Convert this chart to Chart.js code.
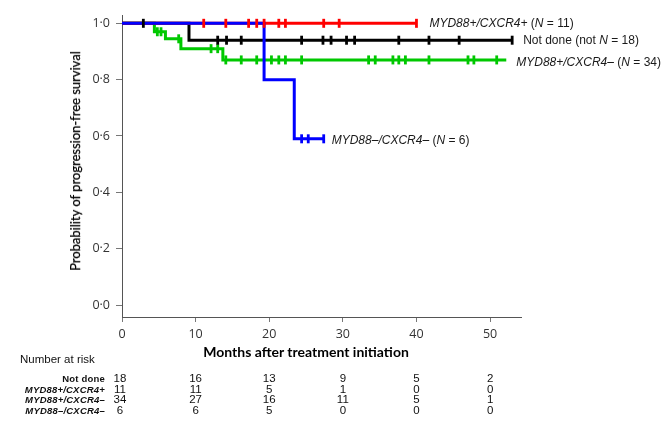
<!DOCTYPE html>
<html>
<head>
<meta charset="utf-8">
<script src="https://cdn.jsdelivr.net/npm/chart.js@4.4.1/dist/chart.umd.min.js"></script>
<style>
  body { margin: 0; background: #fff; }
  #wrap { position: relative; width: 666px; height: 425px; overflow: hidden; font-family: "Liberation Sans", Arial, sans-serif; }
  #km { position: absolute; left: 0; top: 0; }
  .curve-label { position: absolute; white-space: nowrap; font-size: 12px; color: #1a1a1a; transform: translateY(-50%); }
  .axis-title { position: absolute; white-space: nowrap; font-family: Lato, "Open Sans", sans-serif; color: #000; }
  #x-title { font-size: 14px; font-weight: bold; transform: translate(-50%, -50%); }
  #y-title { font-size: 13px; -webkit-text-stroke: 0.25px #000; transform: translate(-50%, -50%) rotate(-90deg); }
  .risk { position: absolute; white-space: nowrap; transform: translateY(-50%); color: #111; }
  .risk-name { font-size: 9.5px; font-weight: bold; text-align: right; letter-spacing: 0.2px; }
  .risk-num { font-size: 11.5px; transform: translate(-50%, -50%); }
</style>
</head>
<body>
<div id="wrap">
  <canvas id="km" width="666" height="425"></canvas>
  <div id="y-title" class="axis-title">Probability of progression-free survival</div>
  <div id="x-title" class="axis-title">Months after treatment initiation</div>
</div>
<script>
// --- DADOS ---
const xTicks = [0, 10, 20, 30, 40, 50];
const yTicks = [0, 0.2, 0.4, 0.6, 0.8, 1.0];

// MYD88–/CXCR4– (azul)
const wtWtTimes = [0, 19.3, 23.4, 27.4];
const wtWtSurv = [1, 0.8, 0.59, 0.59];
const wtWtCensor = [24.4, 25.3, 27.4];

// MYD88+/CXCR4+ (vermelho)
const mutMutTimes = [0, 40];
const mutMutSurv = [1, 1];
const mutMutCensor = [11.1, 14.1, 17.2, 18.3, 19.3, 21.3, 22.2, 27.4, 29.5, 40];

// Not done (preto)
const notDoneTimes = [0, 9.1, 53];
const notDoneSurv = [1, 0.94, 0.94];
const notDoneCensor = [2.9, 13.0, 14.2, 16.2, 24.4, 27.3, 28.4, 30.5, 31.6, 37.6, 41.7, 45.8, 53];

// MYD88+/CXCR4– (verde)
const mutWtTimes = [0, 4.4, 5.9, 8.0, 13.7, 52.2];
const mutWtSurv = [1, 0.97, 0.945, 0.91, 0.87, 0.87];
const mutWtCensor = [4.8, 5.3, 7.7, 12.1, 13.0, 14.1, 16.2, 18.3, 20.3, 21.3, 22.2, 24.4,
                     33.5, 34.4, 36.8, 37.6, 38.5, 41.7, 47.0, 47.8, 50.9];

// Number at risk
const riskNames = ['Not done', 'MYD88+/CXCR4+', 'MYD88+/CXCR4–', 'MYD88–/CXCR4–'];
const riskNotDone = [18, 16, 13, 9, 5, 2];
const riskMutMut = [11, 11, 5, 1, 0, 0];
const riskMutWt = [34, 27, 16, 11, 5, 1];
const riskWtWt = [6, 6, 5, 0, 0, 0];

// --- AUXILIARES ---
const survAt = (times, surv, t) => {
  let s = surv[0];
  times.forEach((tt, i) => { if (tt <= t) s = surv[i]; });
  return s;
};

const curve = (times, surv, color, order) => ({
  type: 'line',
  data: times.map((t, i) => ({ x: t, y: surv[i] })),
  borderColor: color,
  borderWidth: 3,
  stepped: 'before',
  pointRadius: 0,
  fill: false,
  borderJoinStyle: 'miter',
  order
});

const censors = (times, surv, censor, color) => ({
  type: 'scatter',
  data: censor.map(t => ({ x: t, y: survAt(times, surv, t) })),
  pointStyle: 'line',
  rotation: 90,
  pointRadius: 4.5,
  borderWidth: 2.8,
  borderColor: color,
  backgroundColor: color,
  showLine: false,
  order: 0
});

const RED = '#ff0000', BLACK = '#000000', GREEN = '#00c800', BLUE = '#0000ff';
const tickFont = { family: "'Open Sans', sans-serif", size: 12.5 };

const chart = new Chart(document.getElementById('km'), {
  data: {
    datasets: [
      curve(wtWtTimes, wtWtSurv, BLUE, 1),
      curve(mutMutTimes, mutMutSurv, RED, 2),
      curve(notDoneTimes, notDoneSurv, BLACK, 3),
      curve(mutWtTimes, mutWtSurv, GREEN, 4),
      censors(wtWtTimes, wtWtSurv, wtWtCensor, BLUE),
      censors(mutMutTimes, mutMutSurv, mutMutCensor, RED),
      censors(notDoneTimes, notDoneSurv, notDoneCensor, BLACK),
      censors(mutWtTimes, mutWtSurv, mutWtCensor, GREEN)
    ]
  },
  options: {
    responsive: false,
    animation: false,
    layout: { padding: { left: 0, right: 145, top: 15, bottom: 78 } },
    plugins: { legend: { display: false }, tooltip: { enabled: false } },
    scales: {
      x: {
        type: 'linear', min: 0, max: 54.2,
        afterBuildTicks: s => { s.ticks = xTicks.map(v => ({ value: v })); },
        afterFit: s => { s.height = 30; },
        ticks: { font: tickFont, color: '#333', padding: 5, maxRotation: 0, autoSkip: false },
        grid: { drawOnChartArea: false, tickLength: 5, color: '#777' },
        border: { color: '#555', width: 1 }
      },
      y: {
        type: 'linear', min: -0.0426, max: 1.0295,
        afterBuildTicks: s => { s.ticks = yTicks.map(v => ({ value: v })); },
        afterFit: s => { s.width = 122; },
        ticks: { font: tickFont, color: '#333', padding: 6, callback: v => v.toFixed(1).replace('.', '·') },
        grid: { drawOnChartArea: false, tickLength: 6, color: '#777' },
        border: { color: '#555', width: 1 }
      }
    }
  }
});

// --- TEXTOS EM HTML ---
const wrap = document.getElementById('wrap');
const xs = chart.scales.x, ys = chart.scales.y;

const addLabel = (html, left, top) => {
  const el = document.createElement('div');
  el.className = 'curve-label';
  el.innerHTML = html;
  el.style.left = left + 'px';
  el.style.top = top + 'px';
  wrap.appendChild(el);
};

addLabel('<i>MYD88+/CXCR4+</i> (<i>N</i> = 11)', xs.getPixelForValue(40) + 13, ys.getPixelForValue(1.0));
addLabel('Not done (not <i>N</i> = 18)', xs.getPixelForValue(53) + 11, ys.getPixelForValue(0.94));
addLabel('<i>MYD88+/CXCR4–</i> (<i>N</i> = 34)', xs.getPixelForValue(52.2) + 10, ys.getPixelForValue(0.87) + 2);
addLabel('<i>MYD88–/CXCR4–</i> (<i>N</i> = 6)', xs.getPixelForValue(27.4) + 8, ys.getPixelForValue(0.59) + 1);

const xTitle = document.getElementById('x-title');
xTitle.style.left = '306px'; xTitle.style.top = '351px';
const yTitle = document.getElementById('y-title');
yTitle.style.left = '75px'; yTitle.style.top = '161px';

// tabela "Number at risk"
const head = document.createElement('div');
head.className = 'risk';
head.style.cssText = 'left:20px;top:359px;font-size:11.5px;';
head.textContent = 'Number at risk';
wrap.appendChild(head);

[riskNotDone, riskMutMut, riskMutWt, riskWtWt].forEach((row, r) => {
  const y = 378 + r * 10.5;
  const name = document.createElement('div');
  name.className = 'risk risk-name';
  name.style.right = (666 - 105) + 'px';
  name.style.top = y + 'px';
  name.innerHTML = r === 0 ? riskNames[r] : '<i>' + riskNames[r] + '</i>';
  wrap.appendChild(name);
  row.forEach((n, i) => {
    const el = document.createElement('div');
    el.className = 'risk risk-num';
    el.style.left = (xs.getPixelForValue(xTicks[i]) - (i === 0 ? 2 : 0)) + 'px';
    el.style.top = y + 'px';
    el.textContent = n;
    wrap.appendChild(el);
  });
});
</script>
</body>
</html>
